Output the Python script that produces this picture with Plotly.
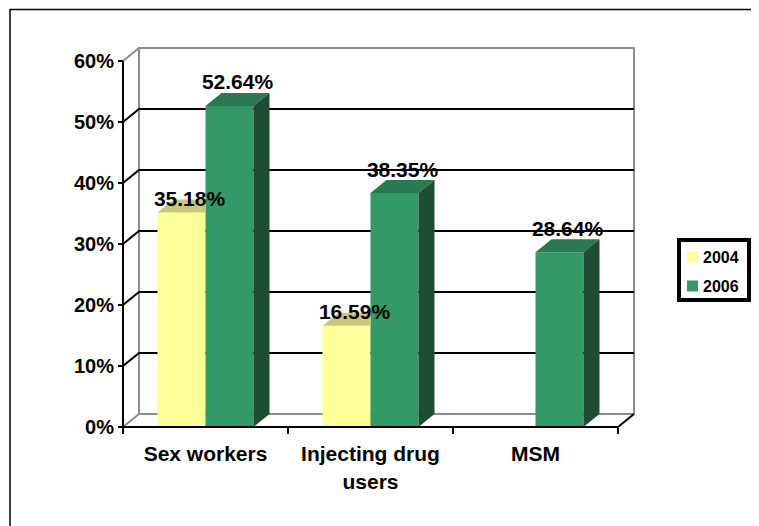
import plotly.graph_objects as go

# ---------------- data ----------------
categories = ["Sex workers", "Injecting drug<br>users", "MSM"]
years = ["2004", "2006"]
values_2004 = [35.18, 16.59, None]
values_2006 = [52.64, 38.35, 28.64]
y_tick_values = [0, 10, 20, 30, 40, 50, 60]
y_tick_labels = ["0%", "10%", "20%", "30%", "40%", "50%", "60%"]

# ---------------- styling / geometry ----------------
OFF = 8                                  # page body margin of the browser
W, H = 759 - OFF, 526 - OFF
L, R, T, B = 100 - OFF, 650 - OFF, 30 - OFF, 445 - OFF   # plot area in pixels
X0PX, CATPX = 123 - OFF, 165             # px of left edge of first category, px per category
Y0PX, UNITPX = 427 - OFF, 6.1            # px of 0 %, px per 1 %
DX = 16 / CATPX                          # depth offset (x, data units)
DY = 13 / UNITPX                         # depth offset (y, data units)
BW = 48 / CATPX                          # bar width (data units)
FONT = "Liberation Sans, Arial, sans-serif"

front_cols = ["#FFFF99", "#339966"]
top_cols = ["#C9C779", "#297A50"]
side_cols = ["#B3B36B", "#1E4D33"]
label_shift_px = [-10, 0]                # per-series vertical label nudge (px)
GRAY = "#8C8C8C"

xmin = (L - X0PX) / CATPX - 0.5
xmax = (R - X0PX) / CATPX - 0.5
ymax = (Y0PX - T) / UNITPX
ymin = (Y0PX - B) / UNITPX


def pxx(px):
    return (px - OFF - L) / (R - L)


def pxy(py):
    return (B - (py - OFF)) / (B - T)


ncat = len(categories)
pos = list(range(ncat))
x_left = -0.5
x_right = ncat - 0.5
y_top = y_tick_values[-1]

fig = go.Figure()
series = [values_2004, values_2006]
nser = len(series)

# front faces: real bar traces
for i, (yr, vals) in enumerate(zip(years, series)):
    off = (i - nser / 2) * BW
    fig.add_trace(go.Bar(
        x=pos, y=vals, width=BW, offset=off, name=yr,
        marker=dict(color=front_cols[i], line=dict(width=0)),
        showlegend=False, hoverinfo="skip"))

# 3D top / side faces computed from the data
for i, vals in enumerate(series):
    off = (i - nser / 2) * BW
    last = (i == nser - 1)
    tx, ty, sx, sy = [], [], [], []
    for p, v in zip(pos, vals):
        if v is None:
            continue
        x0 = p + off
        x1 = x0 + BW
        if last:
            tx += [x0, x0 + DX, x1 + DX, x1, x0, None]
            ty += [v, v + DY, v + DY, v, v, None]
            sx += [x1, x1 + DX, x1 + DX, x1, x1, None]
            sy += [0, DY, v + DY, v, 0, None]
        else:
            # part hidden behind the neighbouring bar is not drawn
            tx += [x0, x0 + DX, x1, x1, x0, None]
            ty += [v, v + DY, v + DY, v, v, None]
    fig.add_trace(go.Scatter(x=tx, y=ty, fill="toself", mode="lines",
                             line=dict(width=0), fillcolor=top_cols[i],
                             showlegend=False, hoverinfo="skip"))
    if sx:
        fig.add_trace(go.Scatter(x=sx, y=sy, fill="toself", mode="lines",
                                 line=dict(width=0), fillcolor=side_cols[i],
                                 showlegend=False, hoverinfo="skip"))

# data labels
for i, vals in enumerate(series):
    off = (i - nser / 2) * BW
    lx, ly, lt = [], [], []
    for p, v in zip(pos, vals):
        if v is None:
            continue
        lx.append(p + off + BW / 2 + DX / 2)
        ly.append(v + DY - 0.3 + label_shift_px[i] / UNITPX)
        lt.append(f"{v:.2f}%")
    fig.add_trace(go.Scatter(x=lx, y=ly, text=lt, mode="text",
                             textposition="top center",
                             textfont=dict(family=FONT, size=21, color="black", weight="bold"),
                             showlegend=False, hoverinfo="skip", cliponaxis=False))

shapes = []
# back wall
shapes.append(dict(type="rect", xref="x", yref="y", x0=x_left + DX, x1=x_right + DX,
                   y0=DY, y1=y_top + DY, line=dict(color=GRAY, width=2),
                   fillcolor="white", layer="below"))
shapes.append(dict(type="line", xref="x", yref="y", x0=x_left, y0=y_top,
                   x1=x_left + DX, y1=y_top + DY, line=dict(color=GRAY, width=2), layer="below"))
shapes.append(dict(type="line", xref="x", yref="y", x0=x_left, y0=0,
                   x1=x_left + DX, y1=DY, line=dict(color=GRAY, width=2), layer="below"))
# gridlines (on side wall diagonal + back wall)
for v in y_tick_values[1:-1]:
    shapes.append(dict(type="path", xref="x", yref="y",
                       path=f"M{x_left},{v} L{x_left + DX},{v + DY} L{x_right + DX},{v + DY}",
                       line=dict(color="black", width=2), layer="below"))
# front axes
shapes.append(dict(type="line", xref="x", yref="y", x0=x_left, y0=0, x1=x_left, y1=y_top,
                   line=dict(color="black", width=2), layer="above"))
shapes.append(dict(type="line", xref="x", yref="y", x0=x_left, y0=0, x1=x_right, y1=0,
                   line=dict(color="black", width=2), layer="above"))
shapes.append(dict(type="line", xref="x", yref="y", x0=x_right, y0=0, x1=x_right + DX, y1=DY,
                   line=dict(color="black", width=2), layer="above"))

# outer chart border
shapes.append(dict(type="rect", xref="paper", yref="paper",
                   x0=pxx(10), x1=pxx(770), y0=pxy(540), y1=pxy(9.5),
                   line=dict(color="black", width=1.5), fillcolor="rgba(0,0,0,0)"))

# legend (manual)
shapes.append(dict(type="rect", xref="paper", yref="paper",
                   x0=pxx(679), x1=pxx(749), y0=pxy(300), y1=pxy(240),
                   line=dict(color="black", width=4), fillcolor="white"))
annotations = []
leg_rows = [257, 286]
for i, yr in enumerate(years):
    cy = leg_rows[i]
    shapes.append(dict(type="rect", xref="paper", yref="paper",
                       x0=pxx(687), x1=pxx(698), y0=pxy(cy + 5.5), y1=pxy(cy - 5.5),
                       line=dict(width=0), fillcolor=front_cols[i]))
    annotations.append(dict(xref="paper", yref="paper", x=pxx(701), y=pxy(cy),
                            xanchor="left", yanchor="middle", text=yr, showarrow=False,
                            font=dict(family=FONT, size=16, color="black", weight="bold")))

fig.update_layout(
    width=W, height=H,
    margin=dict(l=L, r=W - R, t=T, b=H - B, pad=0),
    paper_bgcolor="white", plot_bgcolor="white",
    barmode="overlay",
    showlegend=False,
    shapes=shapes,
    annotations=annotations,
    xaxis=dict(range=[xmin, xmax], anchor="free", position=pxy(Y0PX + OFF),
               tickvals=pos, ticktext=categories,
               ticks="outside", ticklen=8, tickcolor="rgba(0,0,0,0)",
               showgrid=False, zeroline=False, showline=False,
               tickfont=dict(family=FONT, size=21, color="black", weight="bold")),
    xaxis2=dict(range=[xmin, xmax], overlaying="x", anchor="free", position=pxy(Y0PX + OFF),
                side="bottom",
                tickvals=[p - 0.5 for p in pos] + [x_right],
                showticklabels=False, ticks="outside", ticklen=6, tickwidth=2,
                tickcolor="black", showgrid=False, zeroline=False, showline=False),
    yaxis=dict(range=[ymin, ymax], anchor="free", position=pxx(X0PX + OFF),
               tickvals=y_tick_values, ticktext=y_tick_labels,
               ticks="outside", ticklen=5, tickwidth=2, tickcolor="black",
               showgrid=False, zeroline=False, showline=False,
               tickfont=dict(family=FONT, size=20, color="black", weight="bold")),
)

# dummy trace to activate xaxis2
fig.add_trace(go.Scatter(x=[xmin], y=[ymin], xaxis="x2", mode="markers",
                         marker=dict(opacity=0), showlegend=False, hoverinfo="skip"))

fig.write_html("out.html")
